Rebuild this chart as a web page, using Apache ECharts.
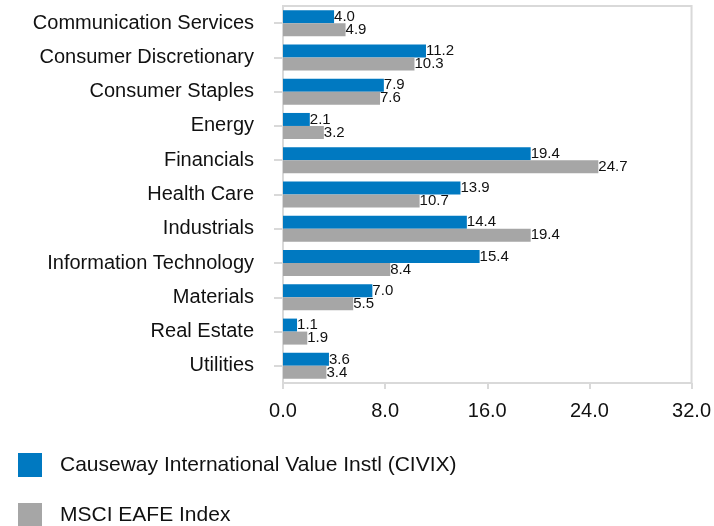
<!DOCTYPE html>
<html><head><meta charset="utf-8">
<script src="https://cdn.jsdelivr.net/npm/echarts@6/dist/echarts.min.js"></script>
<style>html,body{margin:0;padding:0;background:#fff}#c{width:714px;height:526px}</style>
</head><body><div id="c"></div>
<script>
const categories = ["Communication Services","Consumer Discretionary","Consumer Staples","Energy","Financials","Health Care","Industrials","Information Technology","Materials","Real Estate","Utilities"];
const fundName = "Causeway International Value Instl (CIVIX)";
const indexName = "MSCI EAFE Index";
const fundValues = [4.0, 11.2, 7.9, 2.1, 19.4, 13.9, 14.4, 15.4, 7.0, 1.1, 3.6];
const indexValues = [4.9, 10.3, 7.6, 3.2, 24.7, 10.7, 19.4, 8.4, 5.5, 1.9, 3.4];
const xTicks = [0, 8, 16, 24, 32];

const font = "Liberation Sans, Arial, sans-serif";
const chart = echarts.init(document.getElementById('c'));
const lbl = {show:true, position:'right', distance:0, fontSize:15, color:'#111', fontFamily:font, formatter: p => p.value.toFixed(1)};
const legendBase = {orient:'vertical', left:13, itemWidth:24, itemHeight:24, icon:'rect',
    textStyle:{fontSize:21, color:'#111', fontFamily:font, padding:[0,0,0,13]}};
chart.setOption({
  animation:false,
  textStyle:{fontFamily:font},
  grid:{left:283, right:21, top:6, bottom:143, show:true, borderColor:'#d9d9d9', borderWidth:2, containLabel:false},
  legend:[
    Object.assign({}, legendBase, {top:448, data:[fundName]}),
    Object.assign({}, legendBase, {top:498, data:[indexName]})
  ],
  xAxis:{type:'value', min:xTicks[0], max:xTicks[xTicks.length-1], interval:8,
    axisLine:{show:false}, splitLine:{show:false},
    axisTick:{show:true, length:6, lineStyle:{color:'#d9d9d9', width:2}},
    axisLabel:{fontSize:20, color:'#111', margin:18, formatter:v=>v.toFixed(1)}},
  yAxis:{type:'category', data:categories, inverse:true, offset:3,
    axisLine:{show:false},
    axisTick:{show:true, alignWithLabel:true, length:9, lineStyle:{color:'#d9d9d9', width:2}},
    axisLabel:{fontSize:20, color:'#111', margin:26}},
  series:[
    {name:fundName, type:'bar', data:fundValues, barWidth:13, barGap:'0%', itemStyle:{color:'#0079C1'}, label:lbl},
    {name:indexName, type:'bar', data:indexValues, barWidth:13, barGap:'0%', itemStyle:{color:'#A6A6A6'}, label:lbl}
  ]
});
</script></body></html>
